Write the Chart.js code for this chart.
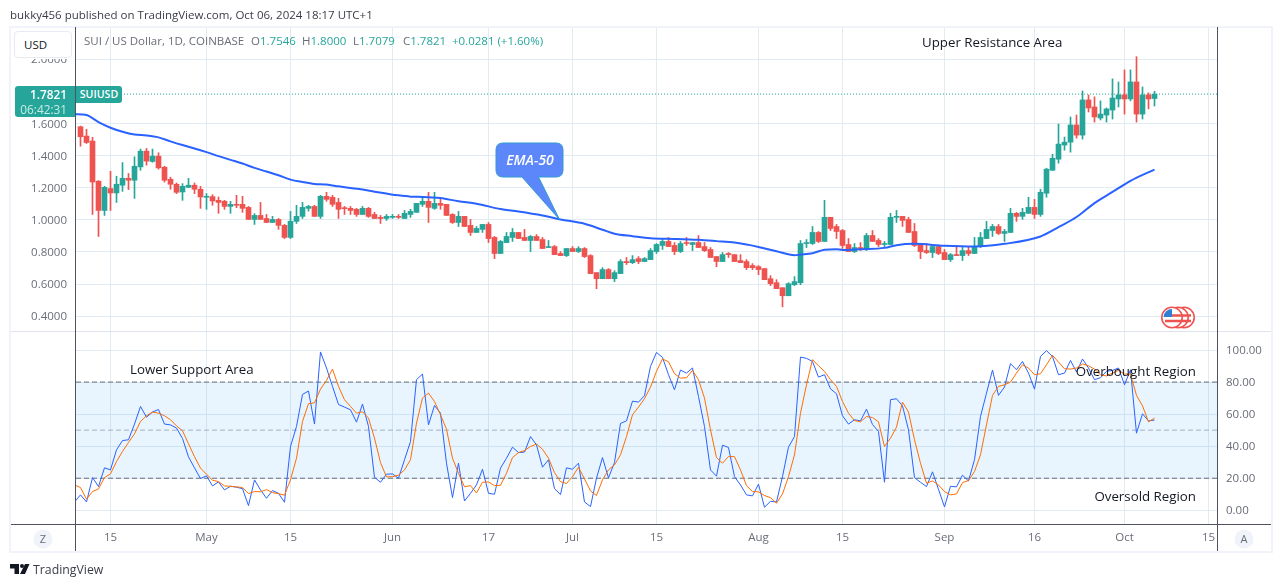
<!DOCTYPE html>
<html>
<head>
<meta charset="utf-8">
<title>SUI / US Dollar</title>
<script src="https://cdn.jsdelivr.net/npm/chart.js@4"></script>
<style>
  html, body { margin: 0; padding: 0; background: #fff; }
  #page { position: relative; width: 1281px; height: 587px; overflow: hidden; font-family: "Open Sans", sans-serif; }
  canvas { position: absolute; left: 0; top: 0; }
  .abs { position: absolute; white-space: nowrap; }
  .line { position: absolute; }
  .note { position: absolute; white-space: nowrap; color: #131722; font: 13.3px "Open Sans", sans-serif; }
  .legend { position: absolute; top: 33px; white-space: nowrap; font-size: 11.5px; color: #6a6d78; }
  .up { color: #26a69a; }
  svg { position: absolute; left: 0; top: 0; }
</style>
</head>
<body>
<div id="page">
  <canvas id="priceChart" width="1281" height="587"></canvas>
  <canvas id="oscChart" width="1281" height="587"></canvas>

  <!-- ramka i osie -->
  <div class="line" style="left:11px;top:28px;width:64px;height:31px;background:#fff"></div>
  <div class="line" style="left:9px;top:26px;width:1263px;height:2px;background:#f0f3fa"></div>
  <div class="line" style="left:9px;top:551px;width:1263px;height:2px;background:#f0f3fa"></div>
  <div class="line" style="left:9px;top:26px;width:2px;height:527px;background:#f0f3fa"></div>
  <div class="line" style="left:1271px;top:26px;width:2px;height:527px;background:#f0f3fa"></div>
  <div class="line" style="left:11px;top:331px;width:1260px;height:1px;background:#e0e3eb"></div>
  <div class="line" style="left:75px;top:27px;width:1px;height:524px;background:#50535e"></div>
  <div class="line" style="left:1217px;top:27px;width:1px;height:524px;background:#50535e"></div>
  <div class="line" style="left:11px;top:524px;width:1260px;height:1px;background:#50535e"></div>

  <div class="abs" style="left:10px;top:7px;font-size:11.5px;color:#3a3d47">bukky456 published on TradingView.com, Oct 06, 2024 18:17 UTC+1</div>

  <div class="abs" style="left:14px;top:31px;width:58px;height:27px;background:#fff;border:1px solid #e8eaf0;border-radius:4px;box-sizing:border-box;font-size:11.5px;line-height:25px;color:#131722;padding-left:9px">USD</div>
  <div class="legend" style="left:84px">SUI / US Dollar, 1D, COINBASE</div>
  <div class="legend" style="left:251px">O<span class="up">1.7546</span></div>
  <div class="legend" style="left:302px">H<span class="up">1.8000</span></div>
  <div class="legend" style="left:353px">L<span class="up">1.7079</span></div>
  <div class="legend" style="left:403px">C<span class="up">1.7821</span></div>
  <div class="legend up" style="left:452px">+0.0281 (+1.60%)</div>

  <div class="abs" style="left:15px;top:86px;width:60px;height:31px;background:#26a69a;border-radius:3px 0 0 3px;color:#fff;font-size:11.8px;line-height:15px;text-align:right;box-sizing:border-box;padding:1px 8px 0 0"><b style="font-weight:600">1.7821</b><br><span style="color:#c8ebe6">06:42:31</span></div>
  <div class="abs" style="left:76px;top:86px;width:46px;height:17px;background:#26a69a;border-radius:0 3px 3px 0;color:#fff;font-size:10.6px;font-weight:600;line-height:17px;text-align:center">SUIUSD</div>

  <div class="note" style="left:922px;top:33px">Upper Resistance Area</div>
  <div class="note" style="left:130px;top:360px">Lower Support Area</div>
  <div class="note" style="right:85px;top:362px">Overbought Region</div>
  <div class="note" style="right:85px;top:487px">Oversold Region</div>

  <svg width="1281" height="587">
    <!-- dymek EMA-50 -->
    <path d="M503 143 H556 Q563 143 563 150 V170 Q563 177 556 177 H538.5 L559.5 219.5 L522 177 H503 Q496 177 496 170 V150 Q496 143 503 143 Z" fill="#5c87fb" stroke="#2f9ad0" stroke-width="1"/>
    <text x="530" y="164.5" text-anchor="middle" font-family="Open Sans" font-size="14" font-style="italic" font-weight="600" fill="#fff">EMA-50</text>
    <!-- ikona USA -->
    <g stroke="#ef5350" stroke-width="1.6">
      <circle cx="1184" cy="317.5" r="10.2" fill="#fff"/>
      <circle cx="1178" cy="317.5" r="10.2" fill="#fff"/>
      <circle cx="1172" cy="317.5" r="10.2" fill="#fff"/>
    </g>
    <path d="M1164 315.5 H1191 M1165 321 H1191" stroke="#ef5350" stroke-width="2.5"/>
    <path d="M1172 309 A8.6 8.6 0 0 0 1163.5 317 H1172 Z" fill="#2f7fd6"/>
    <!-- przyciski -->
    <circle cx="43" cy="539" r="9.5" fill="#f0f3fa"/>
    <circle cx="1244" cy="539" r="9.5" fill="#f0f3fa"/>
    <text x="43" y="543" text-anchor="middle" font-family="Open Sans" font-size="11" fill="#6a6d78">Z</text>
    <text x="1244" y="543" text-anchor="middle" font-family="Open Sans" font-size="11" fill="#6a6d78">A</text>
    <!-- logo -->
    <path d="M10 564 H19 V574 H14.5 V568.5 H10 Z M25 564 H29.5 L25 574 H20 Z" fill="#131722"/>
    <circle cx="22" cy="566" r="2" fill="#131722"/>
  </svg>
  <div class="abs" style="left:33px;top:561px;font-size:12.3px;color:#3a3d47">TradingView</div>
</div>

<script>
// dzień 0 = 10 kwietnia, kolejne świece co jeden dzień
const candleOpen = [
  1.579,1.521,1.490,1.240,1.058,1.194,1.167,1.215,1.258,1.246,
  1.329,1.427,1.363,1.396,1.327,1.252,1.221,1.173,1.202,1.215,
  1.190,1.140,1.144,1.121,1.115,1.083,1.096,1.096,1.077,1.002,
  1.027,1.008,.983,1.002,.965,.890,.990,1.021,1.071,1.083,
  1.021,1.146,1.140,1.108,1.075,1.071,1.065,1.033,1.071,1.033,
  1.015,1.008,1.015,1.021,1.008,1.033,1.046,1.096,1.115,1.071,
  1.102,1.096,1.033,.983,1.021,.965,.921,.940,.971,.890,
  .790,.858,.890,.921,.890,.871,.896,.877,.827,.833,
  .790,.777,.821,.802,.821,.777,.671,.633,.690,.633,
  .665,.740,.733,.758,.740,.752,.802,.840,.865,.840,
  .802,.858,.846,.858,.833,.815,.771,.740,.790,.783,
  .746,.740,.715,.708,.696,.633,.608,.577,.527,.596,
  .608,.852,.852,.921,.865,1.015,.958,.933,.846,.802,
  .827,.815,.902,.871,.846,.846,1.015,1.021,1.002,.927,
  .846,.808,.796,.833,.796,.752,.783,.777,.808,.790,
  .833,.883,.933,.958,.915,.921,1.040,1.021,1.040,1.077,
  1.033,1.165,1.308,1.377,1.465,1.483,1.590,1.527,1.746,1.702,
  1.633,1.652,1.683,1.752,1.777,1.752,1.858,1.658,1.777,1.7546
];
const candleClose = [
  1.517,1.481,1.235,1.058,1.202,1.167,1.221,1.258,1.246,1.333,
  1.427,1.365,1.396,1.323,1.246,1.221,1.171,1.208,1.215,1.190,
  1.142,1.144,1.117,1.108,1.083,1.096,1.090,1.071,1.002,1.027,
  1.002,.983,1.002,.965,.890,.990,1.021,1.077,1.083,1.021,
  1.146,1.127,1.096,1.065,1.069,1.058,1.033,1.071,1.021,1.008,
  1.008,1.021,1.021,1.015,1.040,1.052,1.102,1.115,1.077,1.102,
  1.090,1.027,.983,1.021,.958,.921,.946,.971,.883,.790,
  .865,.896,.921,.883,.871,.896,.871,.821,.833,.783,
  .777,.821,.802,.821,.771,.665,.633,.690,.633,.671,
  .740,.733,.752,.740,.758,.808,.846,.865,.833,.802,
  .852,.852,.858,.827,.808,.765,.740,.783,.783,.740,
  .733,.702,.702,.690,.627,.602,.571,.527,.602,.615,
  .852,.858,.921,.865,1.015,.946,.927,.840,.802,.827,
  .815,.902,.865,.846,.852,1.015,1.021,.996,.921,.840,
  .802,.796,.833,.790,.752,.783,.777,.808,.790,.833,
  .890,.940,.958,.915,.927,1.040,1.021,1.046,1.077,1.033,
  1.171,1.315,1.383,1.471,1.483,1.590,1.527,1.746,1.696,1.640,
  1.658,1.690,1.758,1.777,1.752,1.858,1.658,1.777,1.752,1.7821
];
const candleHigh = [
  1.583,1.563,1.513,1.244,1.208,1.302,1.271,1.356,1.288,1.392,
  1.440,1.444,1.440,1.417,1.333,1.265,1.229,1.225,1.258,1.229,
  1.208,1.163,1.156,1.142,1.121,1.115,1.152,1.146,1.083,1.038,
  1.108,1.033,1.021,1.008,.971,1.052,1.090,1.108,1.090,1.090,
  1.152,1.171,1.152,1.133,1.083,1.083,1.071,1.083,1.077,1.046,
  1.027,1.033,1.033,1.033,1.058,1.065,1.102,1.142,1.171,1.171,
  1.127,1.096,1.038,1.052,1.021,1.002,.958,.971,.983,.896,
  .871,.921,.946,.921,.940,.902,.908,.890,.871,.840,
  .802,.821,.833,.833,.827,.783,.671,.702,.696,.683,
  .752,.765,.777,.771,.765,.821,.852,.883,.890,.858,
  .865,.890,.858,.902,.858,.827,.771,.796,.796,.783,
  .783,.752,.727,.715,.696,.652,.627,.577,.608,.646,
  .871,.877,.958,.927,1.121,1.015,.971,.940,.883,.852,
  .858,.915,.933,.883,.865,1.040,1.058,1.021,1.015,.977,
  .846,.852,.846,.840,.815,.790,.840,.833,.833,.890,
  .921,.990,.971,.971,.940,1.071,1.046,1.071,1.140,1.127,
  1.190,1.321,1.408,1.596,1.515,1.640,1.652,1.802,1.777,1.765,
  1.740,1.696,1.877,1.858,1.933,1.933,2.015,1.827,1.790,1.8000
];
const candleLow = [
  1.458,1.475,1.033,.896,1.027,1.058,1.108,1.177,1.188,1.133,
  1.308,1.340,1.358,1.315,1.235,1.190,1.163,1.121,1.200,1.163,
  1.071,1.065,1.090,1.040,1.065,1.040,1.075,1.046,1.002,.971,
  1.002,.983,.983,.940,.883,.883,.977,1.008,1.054,1.021,
  1.008,1.115,1.083,1.008,1.033,1.033,1.021,1.033,1.015,1.008,
  .977,.996,1.008,1.008,1.008,1.015,1.046,1.083,.983,1.065,
  1.065,1.027,.977,.958,.958,.902,.921,.921,.858,.758,
  .790,.858,.865,.883,.871,.802,.871,.821,.827,.783,
  .777,.771,.802,.796,.765,.665,.571,.633,.633,.615,
  .665,.721,.727,.727,.740,.752,.790,.815,.833,.783,
  .796,.840,.808,.827,.802,.765,.708,.740,.765,.740,
  .733,.690,.690,.658,.627,.590,.571,.458,.527,.590,
  .596,.827,.846,.858,.865,.933,.883,.821,.802,.796,
  .808,.808,.865,.833,.833,.846,.983,.958,.921,.833,
  .758,.790,.765,.783,.752,.740,.777,.746,.777,.790,
  .827,.883,.896,.908,.865,.921,.990,1.002,1.040,1.008,
  1.021,1.140,1.308,1.352,1.433,1.421,1.508,1.502,1.671,1.608,
  1.621,1.608,1.627,1.702,1.658,1.740,1.608,1.627,1.690,1.7079
];

// EMA-50
const emaDays = [
  -1,1,3,5,7,9,11,13,15,17,19,21,23,25,27,29,31,33,35,37,39,41,43,45,47,49,51,53,55,57,58,
  60,63,66,70,73,77,80,84,87,89,92,95,99,103,106,109,113,116,119,120,122,124,126,
  127,130,134,136,139,144,149,154,160,163,166,169,172,175,179
];
const emaValues = [
  1.658,1.652,1.608,1.573,1.548,1.531,1.525,1.513,1.488,1.465,1.444,1.421,1.396,1.373,1.350,1.323,
  1.300,1.277,1.250,1.235,1.223,1.219,1.208,1.198,1.188,1.175,1.163,1.152,1.144,1.142,1.140,
  1.135,1.115,1.100,1.067,1.052,1.027,1.002,.975,.938,.913,.898,.885,.881,.875,.867,.858,.831,.804,.779,.783,.792,.813,.817,
  .812,.817,.825,.842,.850,.838,.833,.850,.896,.954,1.017,1.104,1.173,1.242,1.3125
];

// oscylator: pierwszy punkt to dzień -1
const stochK = [
  5.2,9.6,5.2,20.4,14.8,26.5,25.2,37.7,43.5,44.0,53.8,64.8,58.1,61.3,62.9,53.8,53.3,51.3,44.8,33.3,26.5,
  19.8,21.5,15.2,17.7,12.7,15,14.4,13.5,2.9,19,12.7,7.5,12.3,10.6,5,39.8,52.3,72.3,74.4,53.8,
  98.8,88.8,77.3,66,64.4,62.7,55,66.3,52.3,20.6,17.5,22.5,22.7,20,31.5,42.9,81.5,85,53.3,
  65.4,60.6,29.4,7.9,29.4,5.8,10.6,15.8,25.6,10.6,10,26.3,32.5,39.4,36,36.3,46,40.8,26.9,31.5,
  13.5,9.8,26.5,25.6,29.4,5.2,2.3,20,32.9,20.2,29.8,54.2,55.8,68.1,67.5,71.5,89.8,98.5,95.4,84.6,
  75.2,87.5,85.6,88.8,71,52.3,25.2,21.3,40.6,39.2,21,15.8,9.6,9,16.3,1.9,5.6,5.2,21,39.4,
  46,95.6,94.8,92.9,83.1,84.6,75.8,72.7,59,53.8,56.5,55.8,63.1,53.5,49.2,17.5,69,69.6,65.2,50.2,
  20.4,17.5,14.8,24,13.1,2.1,15,14.6,21.9,18.3,31.5,58.5,73.1,87.5,71.7,76.9,91.5,87.7,92.9,85.6,
  75.6,96,99.6,96,84.6,85.6,93.5,86.3,94.4,88.8,81.5,82.7,86.7,87.3,88.8,78.3,87.7,48.1,60.2,55.8,56.3
];
const stochD = [
  15.8,14.2,6.9,11.7,13.3,20.4,22.7,30.4,36.7,42.3,47.7,55.4,59,61.3,60.6,59,56.5,52.7,49.6,41.5,33.5,
  26.3,22.5,18.8,17.9,15.2,15,14.6,14.2,10.4,11.7,11.5,12.9,11,10.4,9.4,19,32.5,55.4,66.5,67.1,
  75.6,81,88.1,77.3,69,64.8,60.6,61.5,57.5,45,29.8,20.8,21,21.9,25.2,31.5,54.4,70,73.1,
  67.9,59.6,50.6,32.5,23.1,14.6,15.4,10.8,17.5,17.7,15.4,15.6,23.1,32.9,36,37.3,39.8,41.3,38.1,32.5,
  23.5,17.9,16.7,21,26.9,19.6,12.1,9.2,19,25.2,28.3,34.6,46,59.6,64.4,69.6,76.9,86.7,94.4,92.7,
  85.2,82.5,82.7,87.3,81.5,70,50.2,32.9,29.4,33.5,33.5,25.2,15.4,11.7,11.5,9.2,7.9,4.4,10.2,21,
  34.6,60.6,78.3,94,90.2,86.7,81.5,77.3,67.9,60.6,56,55.2,58.5,57.9,55.2,39.8,45,51.9,67.5,61.3,
  44,29.4,16.9,18.3,15.8,11.7,9.6,10.2,17.3,18.5,24.2,34.6,53.3,71.7,77.3,78.3,80,85.6,90.8,88.8,
  84.6,85.2,90.8,96.7,92.5,88.3,88.1,88.8,91.3,90.2,88.1,84.6,83.8,85.6,87.3,85,85,71.7,65.2,55.2,57.5
];

const lastPrice = 1.7821;
const priceTicks = [0.4, 0.6, 0.8, 1.0, 1.2, 1.4, 1.6, 2.0];
const oscTicks = [0, 20, 40, 60, 80, 100];
const bandUpper = 80, bandMiddle = 50, bandLower = 20;
const tickDays = [5, 21, 35, 52, 68, 82, 96, 113, 127, 144, 159, 174, 188];
const tickLabels = ['15', 'May', '15', 'Jun', '17', 'Jul', '15', 'Aug', '15', 'Sep', '16', 'Oct', '15'];

const GREEN = '#26a69a', RED = '#ef5350', GRID = '#e1ecf2', LABEL = '#6a6d78';
const FONT = { family: '"Open Sans", sans-serif', size: 11.5 };
const X_MIN = -0.75, X_MAX = 189.4167;

const candleColors = candleOpen.map((o, i) => candleClose[i] >= o ? GREEN : RED);

function levelLine(y, color, dash) {
    return {
        type: 'line', data: [{ x: X_MIN, y }, { x: X_MAX, y }],
        borderColor: color, borderWidth: 1, borderDash: dash, pointRadius: 0, order: 5
    };
}

function xScale(showTicks) {
    return {
        type: 'linear', min: X_MIN, max: X_MAX, offset: false,
        grid: { color: GRID, offset: false, drawTicks: false },
        border: { display: false },
        afterBuildTicks: scale => { scale.ticks = tickDays.map(value => ({ value })); },
        afterFit: scale => { scale.height = showTicks ? 27 : 0; },
        ticks: {
            display: showTicks, autoSkip: false, maxRotation: 0, padding: 7,
            color: LABEL, font: FONT,
            callback: value => tickLabels[tickDays.indexOf(value)]
        }
    };
}

const commonOptions = {
    responsive: false,
    animation: false,
    events: [],
    plugins: { legend: { display: false }, tooltip: { enabled: false } }
};

new Chart(document.getElementById('priceChart'), {
    type: 'bar',
    data: {
        datasets: [
            {
                type: 'line',
                data: [{ x: X_MIN, y: lastPrice }, { x: X_MAX, y: lastPrice }],
                borderColor: GREEN, borderWidth: 1, borderDash: [1, 2], pointRadius: 0, order: 5
            },
            {
                data: candleLow.map((l, i) => ({ x: i, y: [l, candleHigh[i]] })),
                backgroundColor: candleColors, barThickness: 1, grouped: false, order: 4
            },
            {
                data: candleOpen.map((o, i) => ({ x: i, y: [o, candleClose[i]] })),
                backgroundColor: candleColors, barThickness: 5, minBarLength: 1, grouped: false, order: 3
            },
            {
                type: 'line',
                data: emaDays.map((d, i) => ({ x: d, y: emaValues[i] })),
                borderColor: '#2962ff', borderWidth: 2, pointRadius: 0,
                cubicInterpolationMode: 'monotone', order: 1
            }
        ]
    },
    options: {
        ...commonOptions,
        layout: { padding: { left: 10, right: 64, top: 27, bottom: 256 } },
        scales: {
            x: xScale(false),
            y: {
                position: 'left', min: 0.3075, max: 2.2,
                grid: { color: GRID, drawTicks: false },
                border: { display: false },
                afterBuildTicks: scale => { scale.ticks = priceTicks.map(value => ({ value })); },
                afterFit: scale => { scale.width = 66; },
                ticks: { padding: 9, labelOffset: 1, color: LABEL, font: FONT, autoSkip: false, callback: v => v.toFixed(4) }
            }
        }
    }
});

new Chart(document.getElementById('oscChart'), {
    type: 'line',
    data: {
        datasets: [
            {
                data: [{ x: X_MIN, y: bandUpper }, { x: X_MAX, y: bandUpper }],
                borderColor: '#6b6e78', borderWidth: 1, borderDash: [5, 3], pointRadius: 0,
                fill: { target: { value: bandLower } }, backgroundColor: 'rgba(33,150,243,0.1)', order: 5
            },
            levelLine(bandMiddle, '#b2b5be', [5, 3]),
            levelLine(bandLower, '#6b6e78', [5, 3]),
            {
                data: stochK.map((v, i) => ({ x: i - 1, y: v })),
                borderColor: '#2962ff', borderWidth: 1, pointRadius: 0, tension: 0, order: 2
            },
            {
                data: stochD.map((v, i) => ({ x: i - 1, y: v })),
                borderColor: '#ff6d00', borderWidth: 1, pointRadius: 0, tension: 0, order: 1
            }
        ]
    },
    options: {
        ...commonOptions,
        layout: { padding: { left: 76, right: 9, top: 332, bottom: 36 } },
        scales: {
            x: xScale(true),
            y: {
                position: 'right', min: -8.56, max: 111.25,
                grid: { color: GRID, drawTicks: false },
                border: { display: false },
                afterBuildTicks: scale => { scale.ticks = oscTicks.map(value => ({ value })); },
                afterFit: scale => { scale.width = 55; },
                ticks: { padding: 9, labelOffset: 0.5, color: LABEL, font: FONT, autoSkip: false, callback: v => v.toFixed(2) }
            }
        }
    }
});
</script>
</body>
</html>
